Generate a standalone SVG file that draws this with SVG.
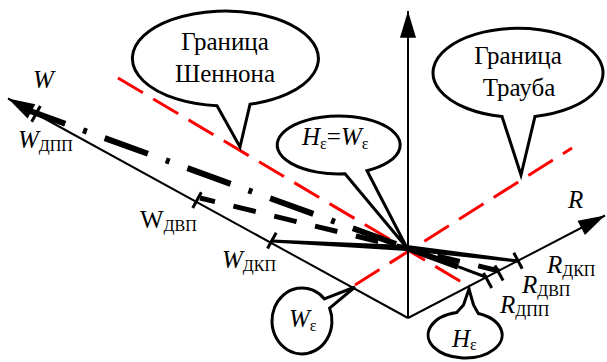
<svg xmlns="http://www.w3.org/2000/svg" width="607" height="362" viewBox="0 0 607 362">
<style>
.ax{fill:none;stroke:#000;stroke-width:2}
.tick{stroke:#000;stroke-width:3;fill:none}
.red{fill:none;stroke:#ff0000;stroke-width:3;stroke-dasharray:29 12}
.bub{fill:#fff;stroke:#000;stroke-width:3;stroke-linejoin:miter}
.it{font-style:italic}
.sub{font-size:16px;font-style:normal}
</style>
<defs>
<marker id="arr" markerUnits="userSpaceOnUse" markerWidth="30" markerHeight="20" viewBox="-26 -8 28 16" refX="0" refY="0" orient="auto">
<path d="M0,0 L-25,-7.5 L-25,7.5 Z" fill="#000"/>
</marker>
</defs>
<g id="connectors">
<path class="red" d="M118,78 L470,287"/>
<path class="red" d="M355,285 L572,148"/>
<path class="ax" d="M408,318 L408,11" marker-end="url(#arr)"/>
<path class="ax" d="M408,318 L8,98.5" marker-end="url(#arr)"/>
<path class="ax" d="M408,318 L605,215.5" marker-end="url(#arr)"/>
<path d="M22,108 L407,248" fill="none" stroke="#000" stroke-width="6" stroke-dasharray="46 19 4 19"/>
<path d="M411,249.5 L458,266.6" fill="none" stroke="#000" stroke-width="6"/>
<path d="M458,266.6 L487,277.5" fill="none" stroke="#000" stroke-width="3"/>
<path d="M200,198 L499,271" fill="none" stroke="#000" stroke-width="5" stroke-dasharray="23 19" stroke-dashoffset="7.6"/>
<polygon points="272,239.5 407,245 518.2,259.5 517.8,262.5 406.7,251 272,242.5" fill="#000"/>
<line class="tick" x1="31.7" y1="121.8" x2="40.3" y2="106"/>
<line class="tick" x1="192.7" y1="208" x2="201.3" y2="192.3"/>
<line class="tick" x1="267.5" y1="248.5" x2="276.2" y2="232.7"/>
<line class="tick" x1="513.8" y1="252.8" x2="522.2" y2="268.8"/>
<line class="tick" x1="494.9" y1="265.5" x2="503.1" y2="280.5"/>
<line class="tick" x1="483.5" y1="273" x2="491.7" y2="288"/>
</g>
<g font-family="'Liberation Serif', 'Times New Roman', serif" font-size="25" fill="#000">
<g id="shannon">
<path class="bub" d="M217,105.8 L240,147 L250,104.3 A93 47.5 0 1 0 217,105.8 Z"/>
<text x="225" y="50" text-anchor="middle">Граница</text>
<text x="225" y="82" text-anchor="middle">Шеннона</text>
</g>
<g id="traub">
<path class="bub" d="M502,116.5 L521,175 L535,116.4 A85 44.5 0 1 0 502,116.5 Z"/>
<text x="518" y="64" text-anchor="middle">Граница</text>
<text x="519" y="96" text-anchor="middle">Трауба</text>
</g>
<g id="hw">
<path class="bub" d="M345,173.8 L407,248 L367,170.7 A61.5 29 0 1 0 345,173.8 Z"/>
<text x="302" y="145"><tspan class="it">H</tspan><tspan class="sub" dy="4">ε</tspan><tspan dy="-4">=</tspan><tspan class="it">W</tspan><tspan class="sub" dy="4">ε</tspan></text>
</g>
<g id="we">
<path class="bub" d="M324.3,298.9 L355,287 L329.6,308.1 A30 33 0 1 1 324.3,298.9 Z"/>
<text x="289" y="327"><tspan class="it">W</tspan><tspan class="sub" dy="4">ε</tspan></text>
</g>
<g id="he">
<path class="bub" d="M456.7,312.6 L463.5,305 L469,289 L473.5,305 L478.3,313.5 A37 23 0 1 1 456.7,312.6 Z"/>
<text x="452" y="347"><tspan class="it">H</tspan><tspan class="sub" dy="3">ε</tspan></text>
</g>
<g id="labels">
<text x="33" y="88" class="it">W</text>
<text x="18" y="148"><tspan class="it">W</tspan><tspan class="sub" dy="3">ДПП</tspan></text>
<text x="140" y="228">W<tspan class="sub" dy="3">ДВП</tspan></text>
<text x="222" y="268"><tspan class="it">W</tspan><tspan class="sub" dy="3">ДКП</tspan></text>
<text x="568" y="208" class="it">R</text>
<text x="547" y="273"><tspan class="it">R</tspan><tspan class="sub" dy="3">ДКП</tspan></text>
<text x="522" y="293"><tspan class="it">R</tspan><tspan class="sub" dy="3">ДВП</tspan></text>
<text x="500" y="313"><tspan class="it">R</tspan><tspan class="sub" dy="3">ДПП</tspan></text>
</g>
</g>
</svg>
